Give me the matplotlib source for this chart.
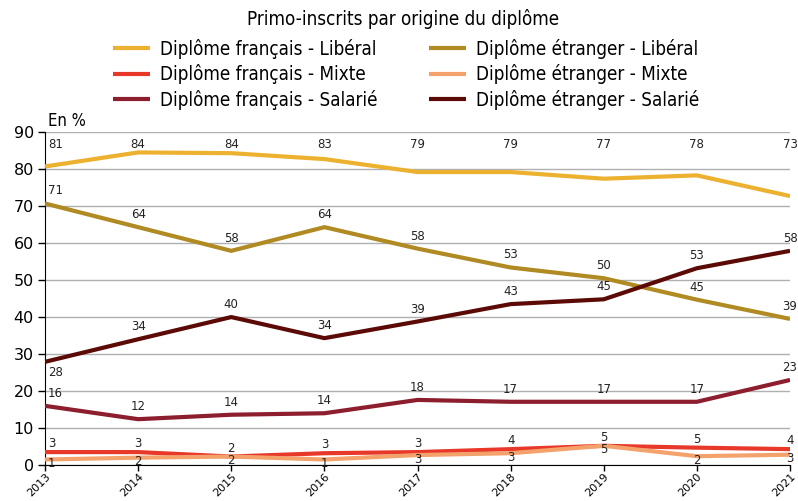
import matplotlib
matplotlib.use("Agg")
from matplotlib import pyplot as plt
from matplotlib.font_manager import FontProperties

# --- dati ---
years = [2013, 2014, 2015, 2016, 2017, 2018, 2019, 2020, 2021]

fr_liberal = [80.6, 84.4, 84.2, 82.6, 79.1, 79.1, 77.3, 78.2, 72.6]
fr_mixte = [3.4, 3.4, 2.2, 3.1, 3.4, 4.2, 5.1, 4.6, 4.2]
fr_salarie = [15.9, 12.3, 13.5, 13.9, 17.5, 17.0, 17.0, 17.0, 22.9]
etr_liberal = [70.6, 64.2, 57.8, 64.2, 58.4, 53.3, 50.4, 44.6, 39.4]
etr_mixte = [1.4, 1.9, 2.2, 1.4, 2.6, 3.1, 5.1, 2.3, 2.7]
etr_salarie = [27.8, 33.9, 39.9, 34.2, 38.7, 43.4, 44.7, 53.1, 57.8]

series = [
    ("Diplôme français - Libéral", fr_liberal, "#EDB130"),
    ("Diplôme français - Mixte", fr_mixte, "#E8382A"),
    ("Diplôme français - Salarié", fr_salarie, "#8C1E2E"),
    ("Diplôme étranger - Libéral", etr_liberal, "#B08A22"),
    ("Diplôme étranger - Mixte", etr_mixte, "#F4A26C"),
    ("Diplôme étranger - Salarié", etr_salarie, "#5C0A06"),
]

cond = FontProperties(family="DejaVu Sans", stretch="condensed", size=13.5)
cond_en = FontProperties(family="DejaVu Sans", stretch="condensed", size=12)

fig = plt.figure(figsize=(7.98, 5.01), dpi=100)
ax = fig.add_axes([0.0564, 0.0725, 0.9336, 0.6646])

for name, vals, col in series:
    ax.plot(years, vals, color=col, lw=3, label=name, solid_capstyle="butt", zorder=3)

# etichette dei valori
for name, vals, col in series:
    for i, (x, v) in enumerate(zip(years, vals)):
        txt = f"{round(v)}"
        ha = "left" if i == 0 else "center"
        dx = 2 if i == 0 else 0
        if vals is fr_liberal:
            ax.annotate(txt, (x, 86.6), xytext=(dx, 0), textcoords="offset points",
                        ha=ha, va="center", fontsize=8.5, color="#222222")
            continue
        if vals is etr_mixte:
            dy = -3
        elif vals is etr_salarie and i == 0:
            dy = -8
        elif vals is fr_mixte:
            dy = 6
        else:
            dy = 9
        ax.annotate(txt, (x, v), xytext=(dx, dy), textcoords="offset points",
                    ha=ha, va="center", fontsize=8.5, color="#222222", zorder=4)

ax.set_xlim(2013, 2021)
ax.set_ylim(0, 90)
ax.set_yticks(range(0, 91, 10))
ax.set_xticks(years)
ax.set_xticklabels([str(y) for y in years], rotation=45, ha="right", rotation_mode="anchor",
                   fontsize=8)
ax.tick_params(axis="y", labelsize=11.5, length=5, width=1, color="black", pad=3)
ax.tick_params(axis="x", length=4, width=1, color="black", pad=1)
ax.grid(axis="y", color="#b0b0b0", lw=1, zorder=0)
ax.set_axisbelow(True)
for s in ["top", "right"]:
    ax.spines[s].set_visible(False)

ax.text(0.004, 1.005, "En %", transform=ax.transAxes, ha="left", va="bottom",
        fontproperties=cond_en)

fig.text(0.505, 0.962, "Primo-inscrits par origine du diplôme", ha="center", va="center",
         fontproperties=cond)

fig.legend(loc="center", bbox_to_anchor=(0.509, 0.852), ncol=2, frameon=False,
           handlelength=2.0, handletextpad=0.55, columnspacing=2.7,
           labelspacing=0.3, prop=cond)

fig.savefig("out.png", dpi=100)
